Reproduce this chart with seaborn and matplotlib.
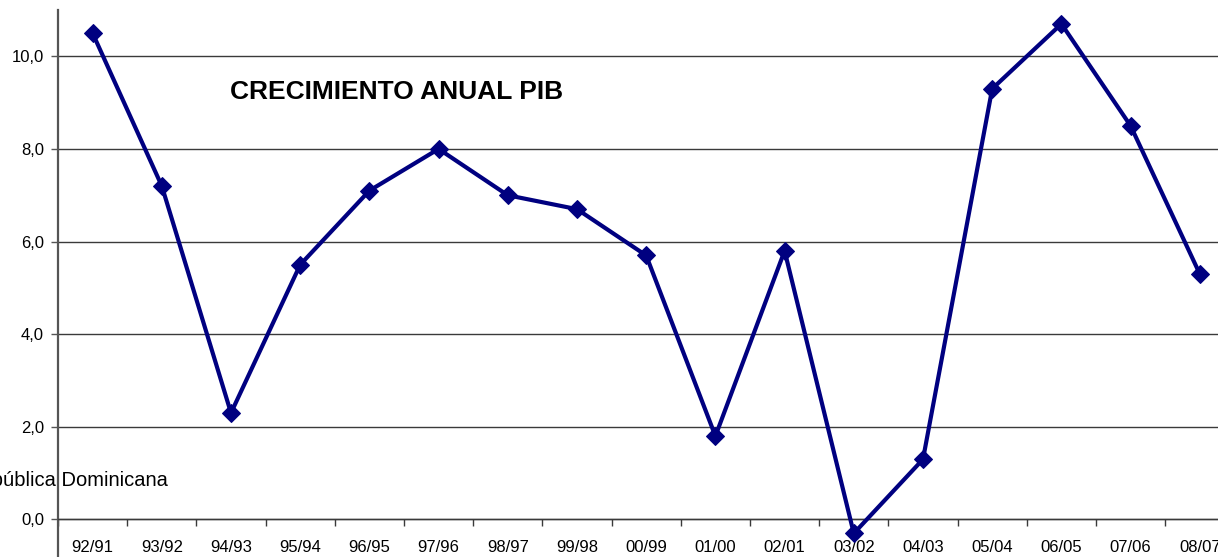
import matplotlib
matplotlib.use("Agg")
import matplotlib.pyplot as plt
import seaborn as sns
import pandas as pd
import numpy as np

periods = ["92/91", "93/92", "94/93", "95/94", "96/95", "97/96", "98/97", "99/98",
           "00/99", "01/00", "02/01", "03/02", "04/03", "05/04", "06/05", "07/06", "08/07"]
growth = [10.5, 7.2, 2.3, 5.5, 7.1, 8.0, 7.0, 6.7, 5.7, 1.8, 5.8, -0.3, 1.3, 9.3, 10.7, 8.5, 5.3]
ytick_vals = [0, 2, 4, 6, 8, 10]
ytick_labels = ["0,0", "2,0", "4,0", "6,0", "8,0", "10,0"]

sns.set_theme(style="white")
plt.rcParams['font.family'] = ['Liberation Sans', 'DejaVu Sans']

W, H = 1218, 557
fig = plt.figure(figsize=(W / 100, H / 100), dpi=100)
left_px, right_px, top_px, bot_px = 58, 58 + 17 * 69.2, 10, 557
ax = fig.add_axes([left_px / W, (H - bot_px) / H, (right_px - left_px) / W, (bot_px - top_px) / H])

df = pd.DataFrame({"x": np.arange(len(periods)), "y": growth})
sns.lineplot(data=df, x="x", y="y", ax=ax, color="#000080", linewidth=3,
             marker="D", markersize=9.5, markeredgecolor="#000080", zorder=5)

ax.set_xlim(-0.5, len(periods) - 0.5)
ax.set_ylim(-0.81, 11.0)

for v in ytick_vals:
    ax.axhline(v, color="#3a3a3a", linewidth=1.0, zorder=1)

ax.set_yticks(ytick_vals)
ax.set_yticklabels(ytick_labels, fontsize=12, color="black")
ax.tick_params(axis="y", left=True, length=5, width=1, color="#555555", pad=5)

ax.spines["top"].set_visible(False)
ax.spines["right"].set_visible(False)
ax.spines["left"].set_color("#555555")
ax.spines["left"].set_linewidth(1.6)
ax.spines["bottom"].set_position(("data", 0))
ax.spines["bottom"].set_color("#3a3a3a")
ax.spines["bottom"].set_linewidth(1.0)

ax.set_xticks(np.arange(len(periods) + 1) - 0.5)
ax.set_xticklabels([])
ax.set_xticks(np.arange(len(periods)), minor=True)
ax.set_xticklabels(periods, minor=True, fontsize=12, color="black")
ax.tick_params(axis="x", which="major", bottom=True, length=5, width=1, color="#3a3a3a")
ax.tick_params(axis="x", which="minor", bottom=False, length=0, pad=15)

ax.set_xlabel("")
ax.set_ylabel("")

fig.text(230 / W, 1 - 92 / H, "CRECIMIENTO ANUAL PIB", fontsize=19, fontweight="bold",
         va="center", ha="left", color="black")
fig.text(168 / W, 1 - 480 / H, "República Dominicana", fontsize=14.5, va="center", ha="right",
         color="black", zorder=0)

fig.savefig("out.png", dpi=100)
